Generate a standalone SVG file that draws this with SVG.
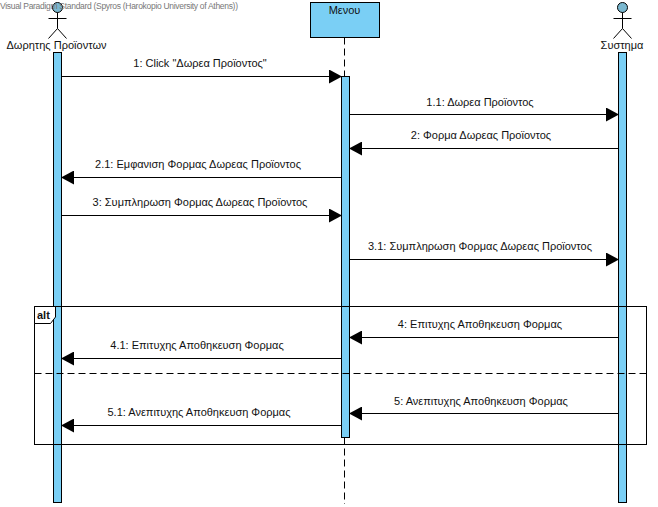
<svg xmlns="http://www.w3.org/2000/svg" width="658" height="507" viewBox="0 0 658 507">
<defs>
<marker id="arr" markerUnits="userSpaceOnUse" markerWidth="14" markerHeight="14" refX="13" refY="7" orient="auto"><path d="M0 0L13 7L0 14Z" fill="#000"/></marker>
</defs>
<style>
text{font-family:"Liberation Sans",Arial,sans-serif;font-size:11px;fill:#111}
.act{fill:#7ACFF5;stroke:#000;stroke-width:1}
.line{stroke:#000;stroke-width:1;fill:none}
.msg{stroke:#000;stroke-width:1;fill:none;marker-end:url(#arr)}
.dash{stroke:#000;stroke-width:1;stroke-dasharray:7 4;fill:none}
.m{text-anchor:middle}
</style>
<rect width="658" height="507" fill="#fff"/>
<g id="actor-donor">
<circle cx="57.5" cy="7.5" r="5" fill="#7AB8D0" stroke="#000"/>
<path class="line" d="M57.5 12.5V28.5M48.5 18.5H66.5M48.5 38.5L57.5 28.5L66.5 38.5"/>
<text class="m" x="56.5" y="49" textLength="100" lengthAdjust="spacing">Δωρητης Προϊοντων</text>
<rect class="act" x="53.5" y="52.5" width="8" height="450"/>
</g>
<g id="menu">
<rect x="310.5" y="2.5" width="69" height="35" fill="#7ACFF5" stroke="#000"/>
<text class="m" x="344.5" y="14">Μενου</text>
<path class="dash" d="M344.5 37.5V76M344.5 437.5V504"/>
<rect class="act" x="341.5" y="76.5" width="8" height="361"/>
</g>
<g id="actor-system">
<circle cx="622.5" cy="7.5" r="5" fill="#7AB8D0" stroke="#000"/>
<path class="line" d="M622.5 12.5V28.5M613.5 18.5H631.5M613.5 38.5L622.5 28.5L631.5 38.5"/>
<text class="m" x="622" y="49">Συστημα</text>
<rect class="act" x="618.5" y="52.5" width="8" height="450"/>
</g>
<g id="alt-frame">
<rect class="line" x="34.5" y="306.5" width="612" height="138"/>
<path d="M34.5 306.5H55.5V317L50.5 323.5H34.5Z" fill="#fff" stroke="#000"/>
<text x="37" y="319" style="font-weight:bold">alt</text>
<path class="dash" d="M34.5 373.5H646"/>
</g>
<g id="connectors">
<path class="msg" d="M61 76.5H342"/>
<path class="msg" d="M349 114.5H619"/>
<path class="msg" d="M618 148.5H349"/>
<path class="msg" d="M341 177.5H61"/>
<path class="msg" d="M61 215.5H342"/>
<path class="msg" d="M349 259.5H619"/>
<path class="msg" d="M618 337.5H349"/>
<path class="msg" d="M341 358.5H61"/>
<path class="msg" d="M618 413.5H349"/>
<path class="msg" d="M341 425.5H61"/>
</g>
<g id="labels">
<text class="m" x="200" y="67">1: Click "Δωρεα Προϊοντος"</text>
<text class="m" x="480" y="106">1.1: Δωρεα Προϊοντος</text>
<text class="m" x="481" y="139">2: Φορμα Δωρεας Προϊοντος</text>
<text class="m" x="198" y="168">2.1: Εμφανιση Φορμας Δωρεας Προϊοντος</text>
<text class="m" x="200" y="206">3: Συμπληρωση Φορμας Δωρεας Προϊοντος</text>
<text class="m" x="480" y="250">3.1: Συμπληρωση Φορμας Δωρεας Προϊοντος</text>
<text class="m" x="480" y="328">4: Επιτυχης Αποθηκευση Φορμας</text>
<text class="m" x="197" y="349">4.1: Επιτυχης Αποθηκευση Φορμας</text>
<text class="m" x="481" y="405">5: Ανεπιτυχης Αποθηκευση Φορμας</text>
<text class="m" x="199" y="416">5.1: Ανεπιτυχης Αποθηκευση Φορμας</text>
</g>
<text x="0" y="9" style="font-size:8.5px;fill:#777" textLength="238" lengthAdjust="spacing">Visual Paradigm Standard (Spyros (Harokopio University of Athens))</text>
</svg>
